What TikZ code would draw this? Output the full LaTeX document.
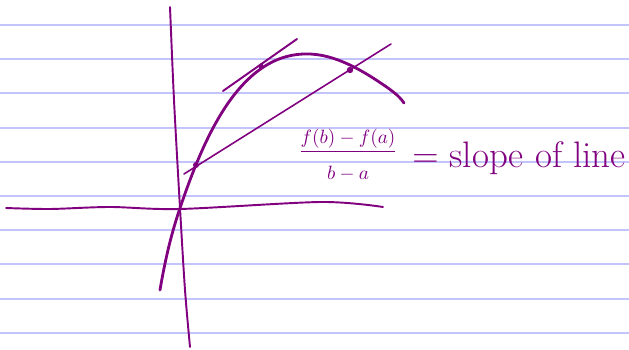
\documentclass[tikz,border=0pt]{standalone}
\usetikzlibrary{positioning}
\definecolor{ink}{RGB}{128,0,128}
\definecolor{ruling}{RGB}{196,196,252}

\begin{document}
\begin{tikzpicture}[x=0.02cm, y=-0.02cm, line cap=round, line join=round,
	ruled/.style={ruling, line width=1.1pt},
	axis/.style={ink, line width=1.1pt},
	pen/.style={ink, line width=1.6pt},
	dot/.style={ink, fill=ink}]
\useasboundingbox [fill=white] (0,0) rectangle (629,350);

% PAPER
	\foreach \k in {0,...,9}
	\draw [ruled] (0,25+34.2*\k) -- (629,25+34.2*\k);

% AXES
	\draw [axis] plot [smooth] coordinates
	{(170,7) (174,100) (180,208) (185,290) (190,347)};
	\draw [axis] plot [smooth] coordinates
	{(6,208) (50,209) (110,207) (180,209) (321,202) (383,207)};

% CURVE
	\draw [pen] (160,290) .. controls (166,255) and (172,232) .. (180,208)
	.. controls (200,150) and (235,55) .. (305,54)
	.. controls (335,53) and (365,72) .. (388,88)
	.. controls (396,94) and (400,97) .. (404,103);

% TANGENT AND SECANT
	\draw [axis] (223,91) -- (297,39);
	\draw [ink, line width=0.9pt] (184,174) -- (391,44);

	\fill [dot] (196,165) circle (3);
	\fill [dot] (261,66) circle (2.6);
	\fill [dot] (350,70) circle (3.2);

% LABELS
	\node [ink, font=\fontsize{11}{13}\selectfont] (quot) at (348,155)
	{$\displaystyle\frac{f(b)-f(a)}{\rule{0pt}{3.1ex}b-a}$};
	\node [ink, anchor=base west, inner sep=0pt, font=\fontsize{21}{24}\selectfont]
	(slope) at (412,168) {$=$ slope of line};

\end{tikzpicture}
\end{document}
